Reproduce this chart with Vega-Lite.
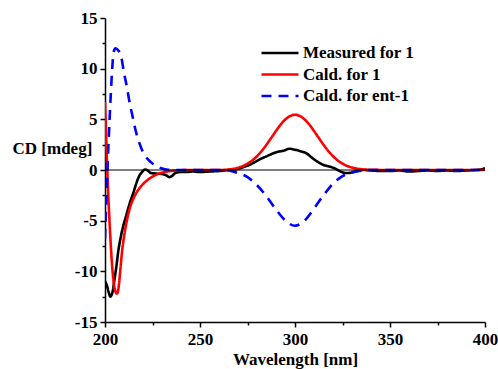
{
  "$schema": "https://vega.github.io/schema/vega-lite/v6.json",
  "width": 380,
  "height": 304,
  "autosize": {"type": "none"},
  "padding": {"left": 105, "top": 18, "right": 13, "bottom": 47},
  "config": {
    "view": {"stroke": null},
    "font": "serif",
    "axis": {
      "domainColor": "black", "domainWidth": 1.5,
      "tickColor": "black", "tickWidth": 1.5, "tickSize": 5,
      "labelFont": "serif", "labelFontWeight": "bold", "labelFontSize": 17, "labelColor": "black",
      "titleFont": "serif", "titleFontWeight": "bold", "titleFontSize": 17, "titleColor": "black",
      "grid": false, "labelFlush": false, "labelOverlap": false,
      "labelExpr": "'' + datum.value"
    },
    "legend": {
      "labelFont": "serif", "labelFontWeight": "bold", "labelFontSize": 17, "labelColor": "black"
    }
  },
  "datasets": {
    "cd": [
      {"wl": 200, "cd": -11.0, "s": "Measured for 1"},
      {"wl": 201, "cd": -11.4, "s": "Measured for 1"},
      {"wl": 202, "cd": -12.1, "s": "Measured for 1"},
      {"wl": 202.8, "cd": -12.5, "s": "Measured for 1"},
      {"wl": 204, "cd": -12.0, "s": "Measured for 1"},
      {"wl": 205, "cd": -10.8, "s": "Measured for 1"},
      {"wl": 206, "cd": -9.5, "s": "Measured for 1"},
      {"wl": 207, "cd": -8.0, "s": "Measured for 1"},
      {"wl": 208, "cd": -6.9, "s": "Measured for 1"},
      {"wl": 209.5, "cd": -5.6, "s": "Measured for 1"},
      {"wl": 211, "cd": -4.6, "s": "Measured for 1"},
      {"wl": 213, "cd": -3.3, "s": "Measured for 1"},
      {"wl": 215, "cd": -2.2, "s": "Measured for 1"},
      {"wl": 216.5, "cd": -1.3, "s": "Measured for 1"},
      {"wl": 218, "cd": -0.6, "s": "Measured for 1"},
      {"wl": 219.5, "cd": -0.2, "s": "Measured for 1"},
      {"wl": 221, "cd": 0.05, "s": "Measured for 1"},
      {"wl": 222.5, "cd": -0.05, "s": "Measured for 1"},
      {"wl": 224, "cd": -0.3, "s": "Measured for 1"},
      {"wl": 227, "cd": -0.35, "s": "Measured for 1"},
      {"wl": 230, "cd": -0.4, "s": "Measured for 1"},
      {"wl": 232, "cd": -0.5, "s": "Measured for 1"},
      {"wl": 234, "cd": -0.7, "s": "Measured for 1"},
      {"wl": 235.5, "cd": -0.55, "s": "Measured for 1"},
      {"wl": 237, "cd": -0.3, "s": "Measured for 1"},
      {"wl": 240, "cd": -0.2, "s": "Measured for 1"},
      {"wl": 243, "cd": -0.2, "s": "Measured for 1"},
      {"wl": 246, "cd": -0.15, "s": "Measured for 1"},
      {"wl": 250, "cd": -0.2, "s": "Measured for 1"},
      {"wl": 255, "cd": -0.15, "s": "Measured for 1"},
      {"wl": 260, "cd": -0.1, "s": "Measured for 1"},
      {"wl": 265, "cd": 0.0, "s": "Measured for 1"},
      {"wl": 270, "cd": 0.1, "s": "Measured for 1"},
      {"wl": 273, "cd": 0.3, "s": "Measured for 1"},
      {"wl": 276, "cd": 0.5, "s": "Measured for 1"},
      {"wl": 279, "cd": 0.8, "s": "Measured for 1"},
      {"wl": 282, "cd": 1.1, "s": "Measured for 1"},
      {"wl": 285, "cd": 1.35, "s": "Measured for 1"},
      {"wl": 288, "cd": 1.6, "s": "Measured for 1"},
      {"wl": 291, "cd": 1.8, "s": "Measured for 1"},
      {"wl": 294, "cd": 1.9, "s": "Measured for 1"},
      {"wl": 297, "cd": 2.1, "s": "Measured for 1"},
      {"wl": 300, "cd": 2.0, "s": "Measured for 1"},
      {"wl": 303, "cd": 1.85, "s": "Measured for 1"},
      {"wl": 306, "cd": 1.65, "s": "Measured for 1"},
      {"wl": 309, "cd": 1.2, "s": "Measured for 1"},
      {"wl": 312, "cd": 0.8, "s": "Measured for 1"},
      {"wl": 315, "cd": 0.5, "s": "Measured for 1"},
      {"wl": 318, "cd": 0.35, "s": "Measured for 1"},
      {"wl": 321, "cd": 0.15, "s": "Measured for 1"},
      {"wl": 324, "cd": -0.15, "s": "Measured for 1"},
      {"wl": 327, "cd": -0.3, "s": "Measured for 1"},
      {"wl": 330, "cd": -0.25, "s": "Measured for 1"},
      {"wl": 333, "cd": -0.1, "s": "Measured for 1"},
      {"wl": 336, "cd": 0.0, "s": "Measured for 1"},
      {"wl": 340, "cd": -0.05, "s": "Measured for 1"},
      {"wl": 345, "cd": -0.1, "s": "Measured for 1"},
      {"wl": 350, "cd": -0.1, "s": "Measured for 1"},
      {"wl": 355, "cd": -0.05, "s": "Measured for 1"},
      {"wl": 360, "cd": -0.15, "s": "Measured for 1"},
      {"wl": 365, "cd": -0.1, "s": "Measured for 1"},
      {"wl": 370, "cd": -0.05, "s": "Measured for 1"},
      {"wl": 375, "cd": -0.1, "s": "Measured for 1"},
      {"wl": 380, "cd": -0.05, "s": "Measured for 1"},
      {"wl": 385, "cd": -0.1, "s": "Measured for 1"},
      {"wl": 390, "cd": -0.05, "s": "Measured for 1"},
      {"wl": 395, "cd": 0.0, "s": "Measured for 1"},
      {"wl": 398, "cd": 0.05, "s": "Measured for 1"},
      {"wl": 400, "cd": 0.2, "s": "Measured for 1"},

      {"wl": 200, "cd": 6.7, "s": "Cald. for 1"},
      {"wl": 200.5, "cd": 4.0, "s": "Cald. for 1"},
      {"wl": 201, "cd": 1.0, "s": "Cald. for 1"},
      {"wl": 201.5, "cd": -1.5, "s": "Cald. for 1"},
      {"wl": 202.5, "cd": -5.5, "s": "Cald. for 1"},
      {"wl": 203.5, "cd": -8.8, "s": "Cald. for 1"},
      {"wl": 204.5, "cd": -11.0, "s": "Cald. for 1"},
      {"wl": 205.5, "cd": -12.0, "s": "Cald. for 1"},
      {"wl": 206.3, "cd": -12.2, "s": "Cald. for 1"},
      {"wl": 207, "cd": -11.8, "s": "Cald. for 1"},
      {"wl": 208, "cd": -10.0, "s": "Cald. for 1"},
      {"wl": 209, "cd": -8.0, "s": "Cald. for 1"},
      {"wl": 210, "cd": -6.6, "s": "Cald. for 1"},
      {"wl": 211.5, "cd": -5.0, "s": "Cald. for 1"},
      {"wl": 213, "cd": -3.8, "s": "Cald. for 1"},
      {"wl": 215, "cd": -2.8, "s": "Cald. for 1"},
      {"wl": 217, "cd": -2.1, "s": "Cald. for 1"},
      {"wl": 219, "cd": -1.6, "s": "Cald. for 1"},
      {"wl": 222, "cd": -1.05, "s": "Cald. for 1"},
      {"wl": 225, "cd": -0.65, "s": "Cald. for 1"},
      {"wl": 228, "cd": -0.38, "s": "Cald. for 1"},
      {"wl": 232, "cd": -0.18, "s": "Cald. for 1"},
      {"wl": 236, "cd": -0.07, "s": "Cald. for 1"},
      {"wl": 240, "cd": -0.02, "s": "Cald. for 1"},
      {"wl": 250, "cd": 0, "s": "Cald. for 1"},
      {"wl": 260, "cd": 0, "s": "Cald. for 1"},
      {"wl": 265, "cd": 0.05, "s": "Cald. for 1"},
      {"wl": 270, "cd": 0.22, "s": "Cald. for 1"},
      {"wl": 275, "cd": 0.62, "s": "Cald. for 1"},
      {"wl": 277.5, "cd": 0.94, "s": "Cald. for 1"},
      {"wl": 280, "cd": 1.36, "s": "Cald. for 1"},
      {"wl": 282.5, "cd": 1.88, "s": "Cald. for 1"},
      {"wl": 285, "cd": 2.5, "s": "Cald. for 1"},
      {"wl": 287.5, "cd": 3.17, "s": "Cald. for 1"},
      {"wl": 290, "cd": 3.85, "s": "Cald. for 1"},
      {"wl": 292.5, "cd": 4.49, "s": "Cald. for 1"},
      {"wl": 295, "cd": 5.0, "s": "Cald. for 1"},
      {"wl": 297.5, "cd": 5.33, "s": "Cald. for 1"},
      {"wl": 300, "cd": 5.45, "s": "Cald. for 1"},
      {"wl": 302.5, "cd": 5.33, "s": "Cald. for 1"},
      {"wl": 305, "cd": 5.0, "s": "Cald. for 1"},
      {"wl": 307.5, "cd": 4.49, "s": "Cald. for 1"},
      {"wl": 310, "cd": 3.85, "s": "Cald. for 1"},
      {"wl": 312.5, "cd": 3.17, "s": "Cald. for 1"},
      {"wl": 315, "cd": 2.5, "s": "Cald. for 1"},
      {"wl": 317.5, "cd": 1.88, "s": "Cald. for 1"},
      {"wl": 320, "cd": 1.36, "s": "Cald. for 1"},
      {"wl": 322.5, "cd": 0.94, "s": "Cald. for 1"},
      {"wl": 325, "cd": 0.62, "s": "Cald. for 1"},
      {"wl": 330, "cd": 0.24, "s": "Cald. for 1"},
      {"wl": 335, "cd": 0.08, "s": "Cald. for 1"},
      {"wl": 340, "cd": 0.02, "s": "Cald. for 1"},
      {"wl": 350, "cd": 0, "s": "Cald. for 1"},
      {"wl": 360, "cd": 0, "s": "Cald. for 1"},
      {"wl": 380, "cd": 0, "s": "Cald. for 1"},
      {"wl": 400, "cd": 0, "s": "Cald. for 1"},

      {"wl": 200, "cd": -6.8, "s": "Cald. for ent-1"},
      {"wl": 200.7, "cd": -3.0, "s": "Cald. for ent-1"},
      {"wl": 201.5, "cd": 1.0, "s": "Cald. for ent-1"},
      {"wl": 202.3, "cd": 4.5, "s": "Cald. for ent-1"},
      {"wl": 203, "cd": 7.3, "s": "Cald. for ent-1"},
      {"wl": 203.8, "cd": 10.0, "s": "Cald. for ent-1"},
      {"wl": 204.5, "cd": 11.6, "s": "Cald. for ent-1"},
      {"wl": 205.5, "cd": 12.0, "s": "Cald. for ent-1"},
      {"wl": 207, "cd": 11.8, "s": "Cald. for ent-1"},
      {"wl": 208.5, "cd": 11.2, "s": "Cald. for ent-1"},
      {"wl": 210, "cd": 9.6, "s": "Cald. for ent-1"},
      {"wl": 211.5, "cd": 8.2, "s": "Cald. for ent-1"},
      {"wl": 213, "cd": 6.6, "s": "Cald. for ent-1"},
      {"wl": 214.5, "cd": 5.3, "s": "Cald. for ent-1"},
      {"wl": 216, "cd": 4.0, "s": "Cald. for ent-1"},
      {"wl": 217.5, "cd": 3.0, "s": "Cald. for ent-1"},
      {"wl": 219, "cd": 2.2, "s": "Cald. for ent-1"},
      {"wl": 221, "cd": 1.45, "s": "Cald. for ent-1"},
      {"wl": 224, "cd": 0.8, "s": "Cald. for ent-1"},
      {"wl": 227, "cd": 0.4, "s": "Cald. for ent-1"},
      {"wl": 230, "cd": 0.15, "s": "Cald. for ent-1"},
      {"wl": 233, "cd": 0.02, "s": "Cald. for ent-1"},
      {"wl": 236, "cd": 0, "s": "Cald. for ent-1"},
      {"wl": 250, "cd": 0, "s": "Cald. for ent-1"},
      {"wl": 260, "cd": 0, "s": "Cald. for ent-1"},
      {"wl": 265, "cd": -0.05, "s": "Cald. for ent-1"},
      {"wl": 270, "cd": -0.3, "s": "Cald. for ent-1"},
      {"wl": 275, "cd": -0.7, "s": "Cald. for ent-1"},
      {"wl": 280, "cd": -1.5, "s": "Cald. for ent-1"},
      {"wl": 285, "cd": -2.6, "s": "Cald. for ent-1"},
      {"wl": 290, "cd": -3.9, "s": "Cald. for ent-1"},
      {"wl": 295, "cd": -5.0, "s": "Cald. for ent-1"},
      {"wl": 300, "cd": -5.5, "s": "Cald. for ent-1"},
      {"wl": 305, "cd": -5.0, "s": "Cald. for ent-1"},
      {"wl": 310, "cd": -3.8, "s": "Cald. for ent-1"},
      {"wl": 315, "cd": -2.5, "s": "Cald. for ent-1"},
      {"wl": 320, "cd": -1.35, "s": "Cald. for ent-1"},
      {"wl": 325, "cd": -0.6, "s": "Cald. for ent-1"},
      {"wl": 330, "cd": -0.2, "s": "Cald. for ent-1"},
      {"wl": 335, "cd": -0.07, "s": "Cald. for ent-1"},
      {"wl": 340, "cd": 0, "s": "Cald. for ent-1"},
      {"wl": 350, "cd": 0, "s": "Cald. for ent-1"},
      {"wl": 400, "cd": 0, "s": "Cald. for ent-1"}
    ]
  },
  "layer": [
    {
      "data": {"name": "cd"},
      "mark": {"type": "line", "strokeWidth": 2.6, "clip": true, "interpolate": "monotone"},
      "encoding": {
        "x": {
          "field": "wl", "type": "quantitative",
          "scale": {"domain": [200, 400], "nice": false, "zero": false},
          "axis": {"values": [200, 250, 300, 350, 400], "title": "Wavelength [nm]", "labelPadding": 4, "titleBaseline": "alphabetic", "titleY": 42}
        },
        "y": {
          "field": "cd", "type": "quantitative",
          "scale": {"domain": [-15, 15], "nice": false, "zero": false},
          "axis": {"values": [-15, -10, -5, 0, 5, 10, 15], "title": "CD [mdeg]", "labelPadding": 3, "titleAngle": 0, "titleAlign": "left", "titleBaseline": "alphabetic", "titleX": -93, "titleY": 135}
        },
        "color": {
          "field": "s", "type": "nominal",
          "scale": {"domain": ["Measured for 1", "Cald. for 1", "Cald. for ent-1"], "range": ["#000000", "#ff0000", "#0000ff"]},
          "legend": {"orient": "none", "legendX": 166, "legendY": 26, "title": null, "symbolType": "M-2.5,0H2.5", "symbolSize": 219, "symbolStrokeWidth": 2.6, "labelOffset": 14, "rowPadding": 4.5}
        },
        "strokeDash": {
          "field": "s", "type": "nominal",
          "scale": {"domain": ["Measured for 1", "Cald. for 1", "Cald. for ent-1"], "range": [[1, 0], [1, 0], [10, 7]]},
          "legend": null
        }
      }
    },
    {
      "data": {"values": [{}]},
      "mark": {"type": "rule", "color": "black", "strokeWidth": 1.2},
      "encoding": {
        "x": {"datum": 200, "type": "quantitative", "axis": {"values": [225, 275, 325, 375], "labels": false, "domain": false, "tickSize": 3, "title": null, "orient": "bottom"}},
        "x2": {"datum": 400},
        "y": {"datum": 0, "type": "quantitative", "axis": {"values": [-12.5, -7.5, -2.5, 2.5, 7.5, 12.5], "labels": false, "domain": false, "tickSize": 3, "title": null, "orient": "left"}}
      }
    }
  ],
  "resolve": {"axis": {"x": "independent", "y": "independent"}}
}
